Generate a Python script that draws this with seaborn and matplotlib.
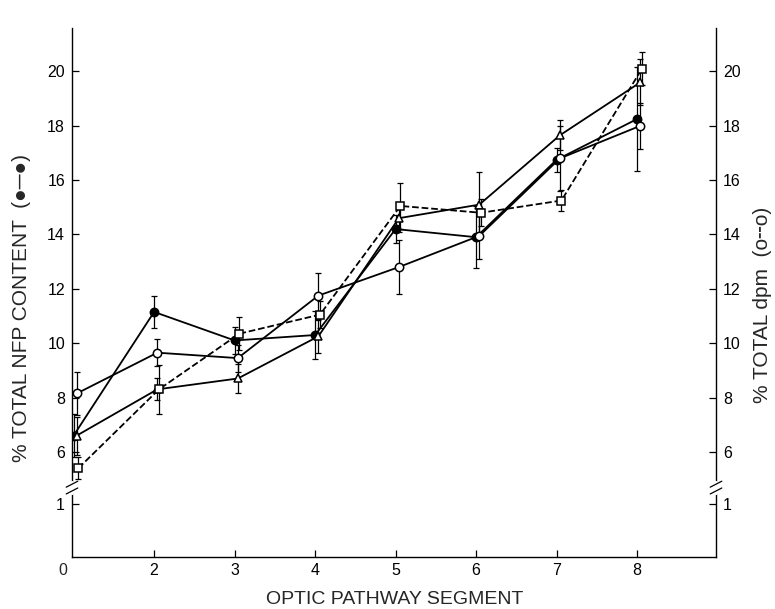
import numpy as np
import pandas as pd
import matplotlib
matplotlib.use("Agg")
import matplotlib.pyplot as plt
import seaborn as sns
from matplotlib.lines import Line2D
from matplotlib.transforms import blended_transform_factory

# ---- data ----
segments = ["0", "2", "3", "4", "5", "6", "7", "8"]
nfp_filled = [6.6, 11.15, 10.1, 10.3, 14.2, 13.9, 16.75, 18.25]
nfp_filled_err = [0.8, 0.6, 0.5, 0.9, 0.5, 1.15, 0.45, 1.9]
open_circle = [8.15, 9.65, 9.45, 11.75, 12.8, 13.95, 16.8, 18.0]
open_circle_err = [0.8, 0.5, 0.5, 0.85, 1.0, 0.85, 1.2, 0.85]
triangle = [6.6, 8.3, 8.7, 10.25, 14.6, 15.1, 17.65, 19.6]
triangle_err = [0.7, 0.4, 0.55, 0.6, 0.5, 1.2, 0.55, 0.85]
square = [5.4, 8.3, 10.35, 11.05, 15.05, 14.8, 15.25, 20.1]
square_err = [0.4, 0.9, 0.6, 0.5, 0.85, 0.5, 0.4, 0.6]

ytick_labels = ["1", "6", "8", "10", "12", "14", "16", "18", "20"]

# ---- styling ----
sns.set_style("ticks")
plt.rcParams["font.family"] = ["Liberation Sans", "DejaVu Sans"]

fig = plt.figure(figsize=(7.75, 6.09), dpi=100)
W, H = 775, 609
ax = fig.add_axes([72 / W, 1 - 557 / H, (716 - 72) / W, (557 - 28) / H])

pos = np.arange(len(segments))
series = [
    ("filled", nfp_filled, nfp_filled_err, dict(marker="o", markerfacecolor="black", linestyle="-"), 0.0),
    ("open", open_circle, open_circle_err, dict(marker="o", markerfacecolor="white", linestyle="-"), 0.04),
    ("tri", triangle, triangle_err, dict(marker="^", markerfacecolor="white", linestyle="-"), 0.04),
    ("square", square, square_err, dict(marker="s", markerfacecolor="white", linestyle="--"), 0.06),
]

for name, vals, errs, kw, dx in series:
    df = pd.DataFrame({"x": pos + dx, "y": vals})
    ax.errorbar(df["x"], df["y"], yerr=errs, fmt="none", ecolor="black",
                elinewidth=0.9, capsize=2.5, capthick=0.9, zorder=2)
    sns.lineplot(data=df, x="x", y="y", ax=ax, color="black", lw=1.3,
                 markersize=6, markeredgecolor="black", markeredgewidth=1.1,
                 sort=False, zorder=3, **kw)

# axes limits and ticks
ax.set_xlim(-0.02, 7.98)
ax.set_ylim(2.13, 21.6)
ax.set_xticks(pos[1:])
ax.set_xticklabels(segments[1:])
ytick_pos = [4.08] + [6, 8, 10, 12, 14, 16, 18, 20]
ax.set_yticks(ytick_pos)
ax.set_yticklabels(ytick_labels)
ax.tick_params(axis="both", direction="in", length=5, width=0.9, labelsize=11.5,
               color="black", labelcolor="black")
ax.tick_params(axis="y", left=True, right=True, labelleft=True, labelright=True, pad=5)
ax.tick_params(axis="x", pad=4)
ax.set_xlabel("")
ax.set_ylabel("")
for side in ["left", "right", "bottom"]:
    ax.spines[side].set_color("black")
    ax.spines[side].set_linewidth(1.0)
ax.spines["top"].set_visible(False)

# "0" at the origin corner
trans = blended_transform_factory(ax.transData, ax.transAxes)
ax.text(-0.14, -0.011, "0", transform=trans, ha="center", va="top", fontsize=11.5)

# axis breaks on both spines
tb = blended_transform_factory(ax.transAxes, ax.transData)
for xs in (0.0, 1.0):
    ax.add_line(Line2D([xs, xs], [4.5, 4.85], transform=tb, color="white", lw=3,
                       clip_on=False, zorder=5))
    for y0 in (4.45, 4.7):
        ax.add_line(Line2D([xs - 0.009, xs + 0.009], [y0, y0 + 0.22], transform=tb,
                           color="black", lw=0.9, clip_on=False, zorder=6))

# axis labels
fig.text(395 / W, 1 - 600 / H, "OPTIC PATHWAY SEGMENT", ha="center", va="center",
         fontsize=14)
fig.text(22 / W, 1 - 462 / H, "% TOTAL NFP CONTENT  (●─●)", rotation=90,
         ha="center", va="bottom", fontsize=15)
fig.text(762 / W, 1 - 403 / H, "% TOTAL dpm  (o╌o)", rotation=90,
         ha="center", va="bottom", fontsize=15)

fig.savefig("out.png", dpi=100)
